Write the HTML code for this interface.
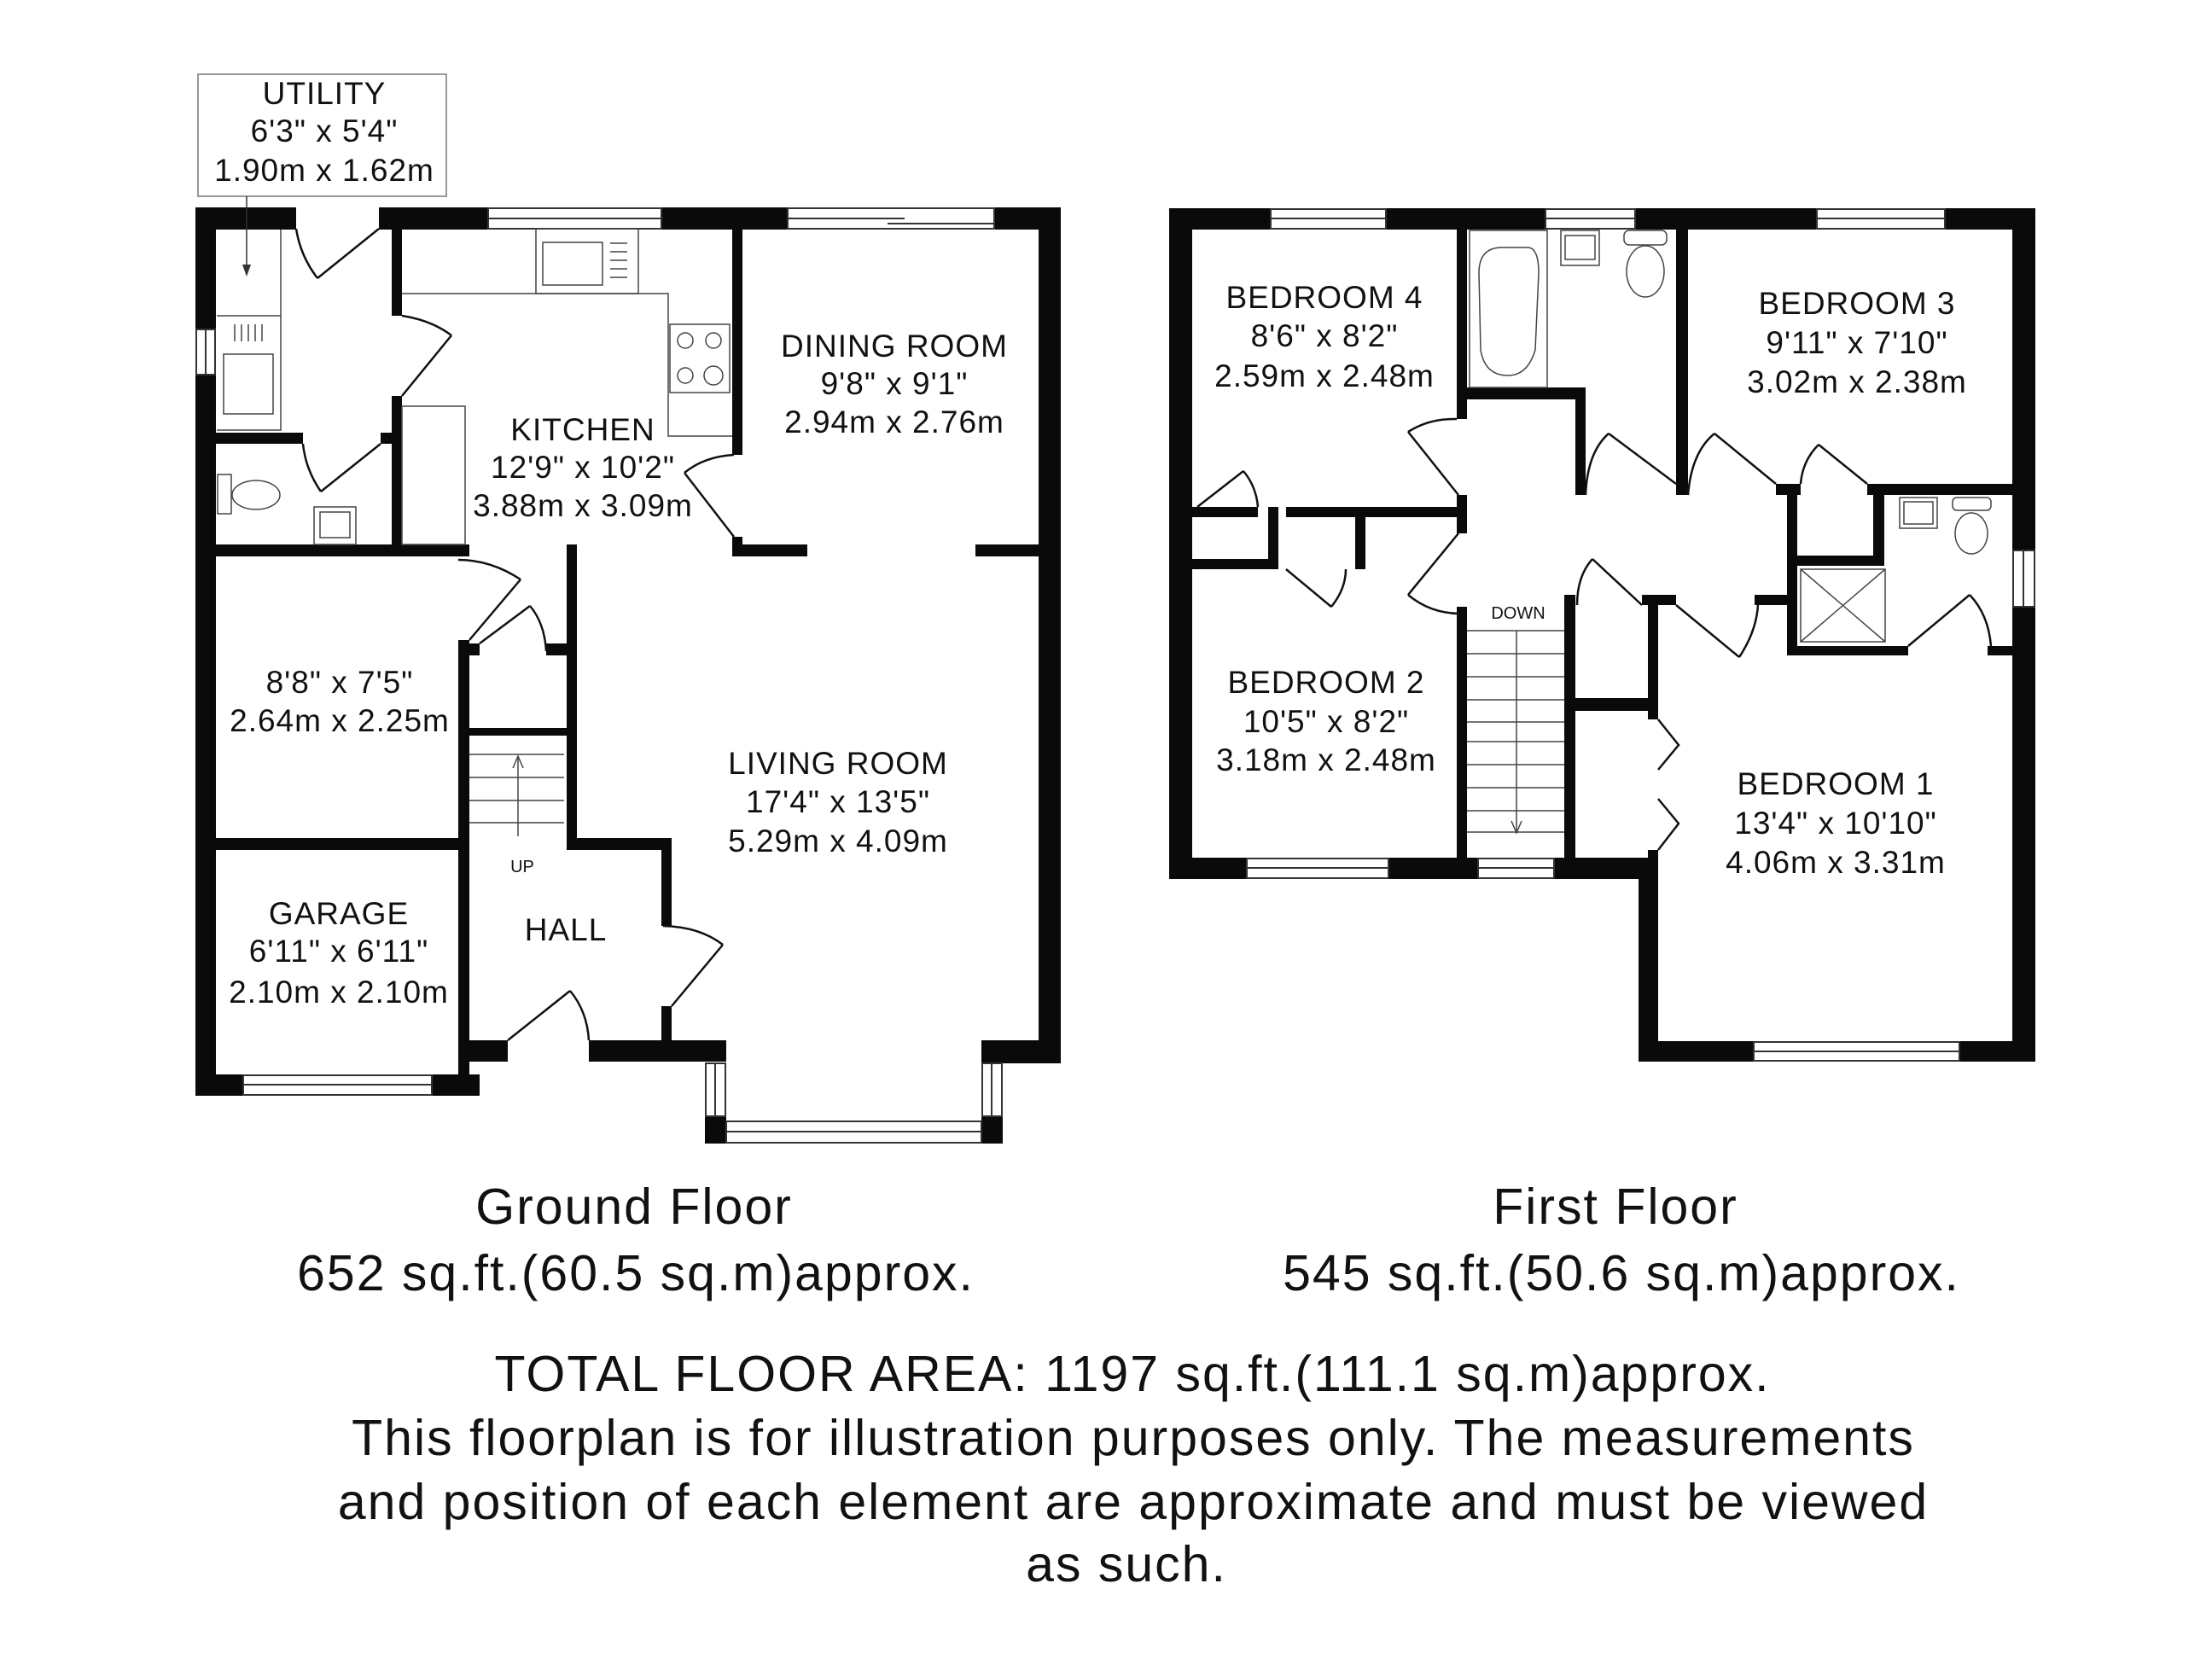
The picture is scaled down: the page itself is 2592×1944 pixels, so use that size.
<!DOCTYPE html>
<html><head><meta charset="utf-8"><style>
html,body{margin:0;padding:0;background:#fff}
svg{display:block}
text{font-family:"Liberation Sans",sans-serif;fill:#111}
</style></head><body>
<svg width="2592" height="1944" viewBox="0 0 2592 1944" xmlns="http://www.w3.org/2000/svg">
<g fill="#0a0a0a">
<rect x="229" y="243" width="118" height="26"/>
<rect x="444" y="243" width="128" height="26"/>
<rect x="775" y="243" width="148" height="26"/>
<rect x="1165" y="243" width="78" height="26"/>
<rect x="229" y="243" width="24" height="143"/>
<rect x="229" y="439" width="24" height="845"/>
<rect x="1217" y="243" width="26" height="1003"/>
<rect x="1150" y="1219" width="93" height="27"/>
<rect x="1150" y="1308" width="25" height="32"/>
<rect x="826" y="1308" width="25" height="32"/>
<rect x="690" y="1219" width="161" height="25"/>
<rect x="545" y="1219" width="50" height="25"/>
<rect x="229" y="1259" width="56" height="25"/>
<rect x="506" y="1259" width="56" height="25"/>
<rect x="537" y="750" width="13" height="534"/>
<rect x="253" y="507" width="102" height="13"/>
<rect x="446" y="507" width="13" height="13"/>
<rect x="253" y="638" width="297" height="14"/>
<rect x="253" y="982" width="297" height="14"/>
<rect x="459" y="269" width="12" height="101"/>
<rect x="459" y="464" width="12" height="188"/>
<rect x="858" y="269" width="12" height="264"/>
<rect x="858" y="629" width="12" height="23"/>
<rect x="858" y="638" width="88" height="14"/>
<rect x="1143" y="638" width="100" height="14"/>
<rect x="664" y="638" width="12" height="358"/>
<rect x="664" y="982" width="123" height="14"/>
<rect x="775" y="982" width="12" height="103"/>
<rect x="775" y="1179" width="12" height="65"/>
<rect x="550" y="853" width="114" height="9"/>
<rect x="545" y="754" width="17" height="14"/>
<rect x="640" y="754" width="24" height="14"/>
<rect x="1370" y="244" width="119" height="25"/>
<rect x="1624" y="244" width="187" height="25"/>
<rect x="1916" y="244" width="213" height="25"/>
<rect x="2279" y="244" width="106" height="25"/>
<rect x="1370" y="244" width="27" height="786"/>
<rect x="1370" y="1005" width="91" height="25"/>
<rect x="1627" y="1005" width="105" height="25"/>
<rect x="1821" y="1005" width="122" height="25"/>
<rect x="2358" y="244" width="27" height="401"/>
<rect x="2358" y="711" width="27" height="533"/>
<rect x="1920" y="1005" width="23" height="239"/>
<rect x="1920" y="1220" width="135" height="24"/>
<rect x="2296" y="1220" width="89" height="24"/>
<rect x="1707" y="269" width="12" height="222"/>
<rect x="1707" y="580" width="12" height="45"/>
<rect x="1707" y="711" width="12" height="319"/>
<rect x="1707" y="454" width="151" height="14"/>
<rect x="1846" y="454" width="12" height="126"/>
<rect x="1964" y="269" width="14" height="311"/>
<rect x="2081" y="567" width="29" height="13"/>
<rect x="2188" y="567" width="170" height="13"/>
<rect x="2094" y="567" width="12" height="201"/>
<rect x="2094" y="757" width="142" height="11"/>
<rect x="2329" y="757" width="29" height="11"/>
<rect x="2195" y="580" width="13" height="83"/>
<rect x="2094" y="651" width="114" height="12"/>
<rect x="1397" y="594" width="77" height="12"/>
<rect x="1507" y="594" width="212" height="12"/>
<rect x="1397" y="655" width="101" height="12"/>
<rect x="1486" y="594" width="12" height="73"/>
<rect x="1588" y="594" width="12" height="73"/>
<rect x="1833" y="697" width="13" height="308"/>
<rect x="1846" y="818" width="97" height="15"/>
<rect x="1924" y="697" width="40" height="12"/>
<rect x="1931" y="697" width="12" height="146"/>
<rect x="1931" y="996" width="12" height="20"/>
<rect x="2056" y="697" width="38" height="12"/>
</g>
<g fill="#fff" stroke="#333" stroke-width="2">
<rect x="572" y="244" width="203" height="24"/><line x1="572" y1="256" x2="775" y2="256"/>
<rect x="923" y="244" width="242" height="24"/><line x1="923" y1="256" x2="1060" y2="256"/><line x1="1040" y1="262" x2="1165" y2="262"/>
<rect x="230" y="386" width="22" height="53"/><line x1="241" y1="386" x2="241" y2="439"/>
<rect x="285" y="1260" width="221" height="23"/><line x1="285" y1="1271" x2="506" y2="1271"/>
<rect x="851" y="1314" width="299" height="25"/><line x1="851" y1="1326" x2="1150" y2="1326"/>
<rect x="1151" y="1246" width="23" height="62"/><line x1="1162" y1="1246" x2="1162" y2="1308"/>
<rect x="827" y="1246" width="23" height="62"/><line x1="838" y1="1246" x2="838" y2="1308"/>
<rect x="1489" y="245" width="135" height="23"/><line x1="1489" y1="256" x2="1624" y2="256"/>
<rect x="1811" y="245" width="105" height="23"/><line x1="1811" y1="256" x2="1916" y2="256"/>
<rect x="2129" y="245" width="150" height="23"/><line x1="2129" y1="256" x2="2279" y2="256"/>
<rect x="1461" y="1006" width="166" height="23"/><line x1="1461" y1="1017" x2="1627" y2="1017"/>
<rect x="1732" y="1006" width="89" height="23"/><line x1="1732" y1="1017" x2="1821" y2="1017"/>
<rect x="2055" y="1221" width="241" height="22"/><line x1="2055" y1="1232" x2="2296" y2="1232"/>
<rect x="2359" y="645" width="25" height="66"/><line x1="2371" y1="645" x2="2371" y2="711"/>
</g>
<g fill="none" stroke="#111" stroke-width="2.5">
<path d="M444 268 L372 326 M372 326 Q352 300 347 268"/>
<path d="M471 464 L529 393 M529 393 Q505 375 471 370"/>
<path d="M446 520 L376 576 M376 576 Q358 550 355 520"/>
<path d="M860 629 L802 554 M802 554 Q825 535 860 533"/>
<path d="M550 750 L610 679 M610 679 Q575 656 537 656"/>
<path d="M562 754 L621 710 M621 710 Q638 730 640 763"/>
<path d="M787 1179 L847 1107 M847 1107 Q820 1086 777 1085"/>
<path d="M595 1219 L668 1161 M668 1161 Q688 1185 690 1219"/>
<path d="M1709 580 L1650 506 M1650 506 Q1675 490 1707 491"/>
<path d="M1709 625 L1650 697 M1650 697 Q1675 718 1709 719"/>
<path d="M1964 567 L1885 508 M1885 508 Q1860 530 1858 580"/>
<path d="M2081 567 L2009 508 M2009 508 Q1982 530 1978 580"/>
<path d="M2188 567 L2131 521 M2131 521 Q2112 540 2110 567"/>
<path d="M1403 594 L1457 552 M1457 552 Q1472 570 1474 594"/>
<path d="M1507 667 L1560 711 M1560 711 Q1577 690 1577 667"/>
<path d="M1924 709 L1866 655 M1866 655 Q1848 675 1848 709"/>
<path d="M1964 709 L2038 770 M2038 770 Q2058 740 2060 709"/>
<path d="M2236 757 L2308 697 M2308 697 Q2330 720 2333 757"/>
<path d="M1943 843 L1967 873 L1943 902 M1943 936 L1967 965 L1943 996"/>
</g>
<g fill="none" stroke="#444" stroke-width="1.5">
<path d="M471 344 L783 344 L783 511 L858 511"/>
<rect x="628" y="268" width="120" height="76"/><rect x="636" y="284" width="70" height="50"/>
<path d="M715 285 h20 M715 295 h20 M715 305 h20 M715 315 h20 M715 325 h20"/>
<rect x="785" y="380" width="70" height="80"/>
<circle cx="803" cy="399" r="9"/><circle cx="836" cy="399" r="9"/><circle cx="803" cy="440" r="9"/><circle cx="836" cy="440" r="11"/>
<rect x="471" y="476" width="74" height="162"/>
<path d="M329 269 L329 504 L254 504 M254 370 L329 370"/>
<rect x="262" y="415" width="58" height="70"/>
<path d="M275 380 v20 M283 380 v20 M291 380 v20 M299 380 v20 M307 380 v20"/>
<ellipse cx="300" cy="580" rx="28" ry="17"/><rect x="255" y="556" width="16" height="46"/>
<rect x="368" y="594" width="49" height="44"/><rect x="375" y="600" width="35" height="30"/>
<line x1="607" y1="980" x2="607" y2="888"/><path d="M601 900 L607 886 L613 900"/>
<path d="M550 884 H661 M550 911 H661 M550 938 H661 M550 964 H661"/>
<rect x="1722" y="270" width="91" height="184"/>
<path d="M1733 320 Q1733 290 1760 290 L1790 290 Q1803 290 1803 320 L1799 410 Q1790 440 1767 440 Q1740 440 1735 410 Z"/>
<rect x="1829" y="270" width="45" height="41"/><rect x="1834" y="276" width="35" height="28"/>
<rect x="1903" y="270" width="50" height="17" rx="6"/><ellipse cx="1928" cy="318" rx="22" ry="30"/>
<rect x="2226" y="583" width="44" height="36"/><rect x="2231" y="588" width="34" height="26"/>
<rect x="2288" y="583" width="45" height="15" rx="5"/><ellipse cx="2310" cy="625" rx="19" ry="24"/>
<rect x="2110" y="667" width="99" height="85"/><path d="M2110 667 L2209 752 M2209 667 L2110 752"/>
<line x1="1777" y1="739" x2="1777" y2="975"/><path d="M1771 962 L1777 976 L1783 962"/>
<path d="M1719 739 H1833 M1719 766 H1833 M1719 793 H1833 M1719 820 H1833 M1719 846 H1833 M1719 869 H1833 M1719 896 H1833 M1719 923 H1833 M1719 950 H1833 M1719 975 H1833"/>
</g>
<rect x="232" y="87" width="291" height="143" fill="none" stroke="#777" stroke-width="1.5"/>
<line x1="289" y1="230" x2="289" y2="320" stroke="#333" stroke-width="1.5"/>
<path d="M284 310 L289 324 L294 310 Z" fill="#333"/>
<g font-size="37" text-anchor="middle" letter-spacing="1">
<text x="380" y="122">UTILITY</text><text x="380" y="166">6'3" x 5'4"</text><text x="380" y="212">1.90m x 1.62m</text>
<text x="1048" y="418">DINING ROOM</text><text x="1048" y="462">9'8" x 9'1"</text><text x="1048" y="507">2.94m x 2.76m</text>
<text x="683" y="516">KITCHEN</text><text x="683" y="560">12'9" x 10'2"</text><text x="683" y="605">3.88m x 3.09m</text>
<text x="398" y="812">8'8" x 7'5"</text><text x="398" y="857">2.64m x 2.25m</text>
<text x="982" y="907">LIVING ROOM</text><text x="982" y="952">17'4" x 13'5"</text><text x="982" y="998">5.29m x 4.09m</text>
<text x="397" y="1083">GARAGE</text><text x="397" y="1127">6'11" x 6'11"</text><text x="397" y="1175">2.10m x 2.10m</text>
<text x="663" y="1102">HALL</text>
<text x="1552" y="361">BEDROOM 4</text><text x="1552" y="406">8'6" x 8'2"</text><text x="1552" y="453">2.59m x 2.48m</text>
<text x="2176" y="368">BEDROOM 3</text><text x="2176" y="414">9'11" x 7'10"</text><text x="2176" y="460">3.02m x 2.38m</text>
<text x="1554" y="812">BEDROOM 2</text><text x="1554" y="858">10'5" x 8'2"</text><text x="1554" y="903">3.18m x 2.48m</text>
<text x="2151" y="931">BEDROOM 1</text><text x="2151" y="977">13'4" x 10'10"</text><text x="2151" y="1023">4.06m x 3.31m</text>
</g>
<g font-size="20" text-anchor="middle"><text x="612" y="1022">UP</text><text x="1779" y="725">DOWN</text></g>
<g font-size="59" text-anchor="middle" letter-spacing="2">
<text x="743" y="1434">Ground Floor</text><text x="745" y="1512">652 sq.ft.(60.5 sq.m)approx.</text>
<text x="1893" y="1434">First Floor</text><text x="1900" y="1512">545 sq.ft.(50.6 sq.m)approx.</text>
<text x="1327" y="1630">TOTAL FLOOR AREA: 1197 sq.ft.(111.1 sq.m)approx.</text>
<text x="1328" y="1705">This floorplan is for illustration purposes only. The measurements</text>
<text x="1328" y="1780">and position of each element are approximate and must be viewed</text>
<text x="1320" y="1853">as such.</text>
</g>
</svg>
</body></html>
